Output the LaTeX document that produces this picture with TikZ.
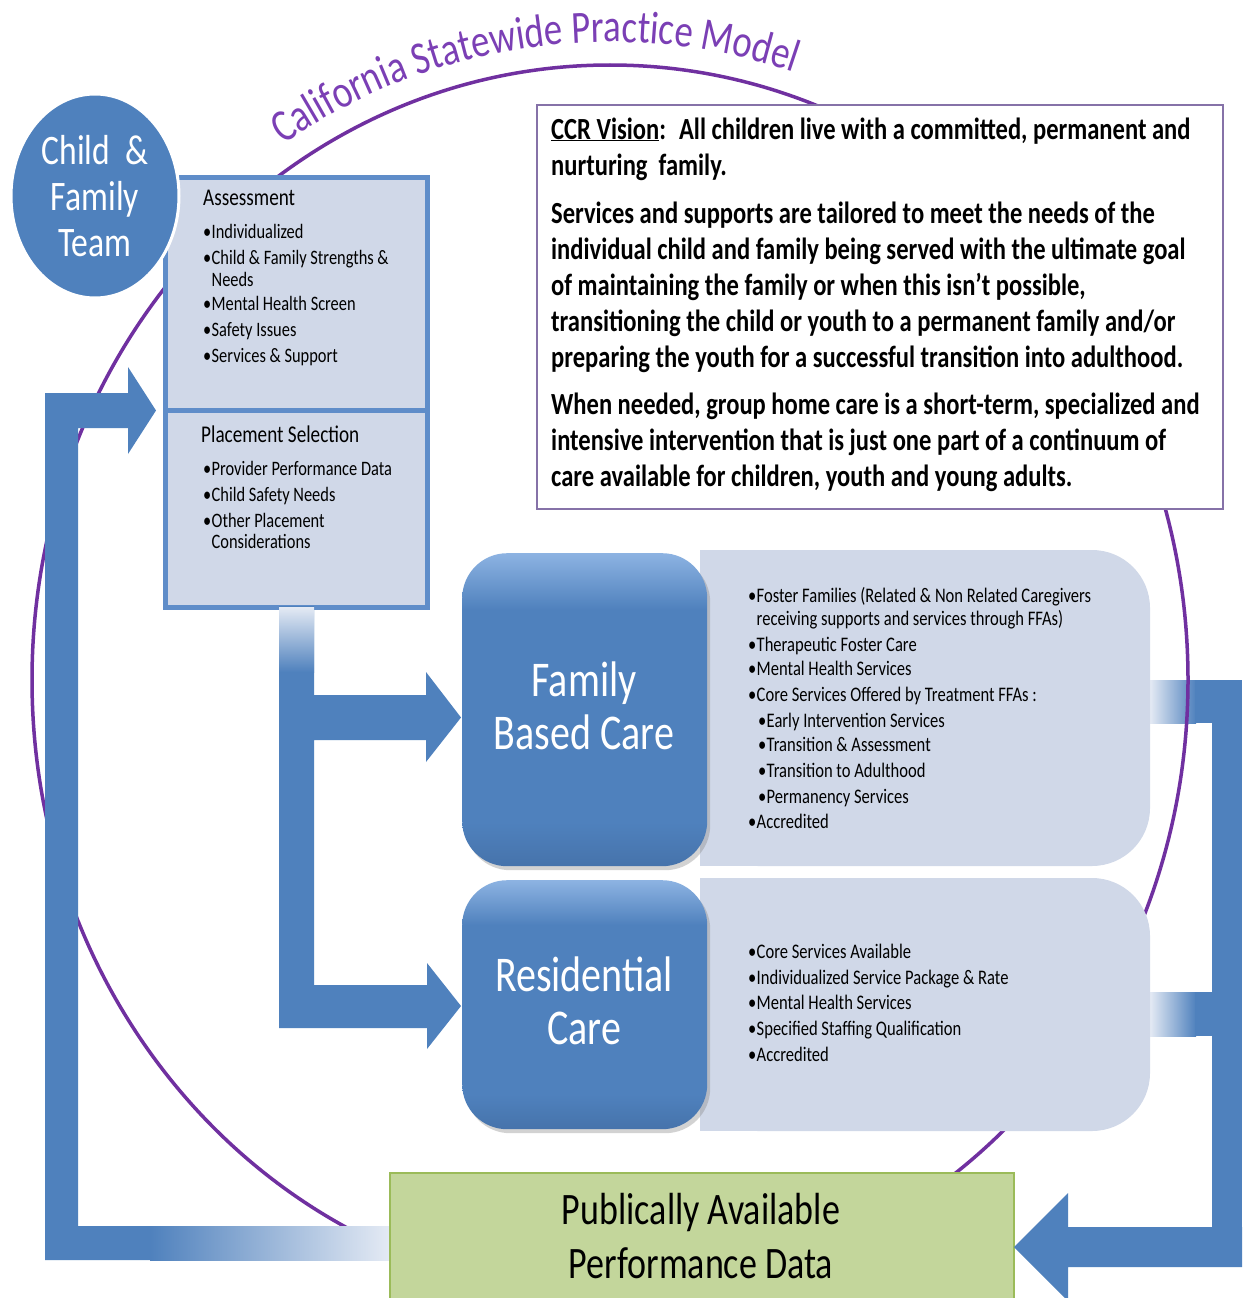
\documentclass[tikz,border=0pt]{standalone}
\usepackage{fontspec}
\setmainfont{Carlito}[FakeStretch=0.8]
\usetikzlibrary{shapes.geometric,shadows,decorations.text}
\definecolor{blueA}{HTML}{4F81BD}
\definecolor{blueTop}{HTML}{8DB3E2}
\definecolor{blueDark}{HTML}{4673AB}
\definecolor{boxfill}{HTML}{D0D8E8}
\definecolor{boxline}{HTML}{5F8DC9}
\definecolor{ringpurple}{HTML}{7030A0}
\definecolor{titlepurple}{HTML}{7B3FB5}
\definecolor{visionline}{HTML}{8672A8}
\definecolor{greenfill}{HTML}{C3D69B}
\definecolor{greenline}{HTML}{9BBB59}
\definecolor{fadeblue}{HTML}{E4EAF4}
\pgfdeclareverticalshading{bluebox}{100bp}{color(0bp)=(blueDark); color(25bp)=(blueDark); color(32bp)=(blueA); color(66bp)=(blueA); color(75bp)=(blueTop); color(100bp)=(blueTop)}
\newcommand{\bul}{\makebox[8.5pt][l]{•}}
\newcommand{\ind}{\hspace*{8.5pt}}
\newcommand{\subind}{\hspace*{10pt}}
\tikzset{
  bar/.style={fill=blueA, draw=none},
  panel/.style={fill=boxfill, draw=boxline, line width=5pt, anchor=north west},
  infofill/.style={fill=boxfill, draw=none},
  carebox/.style={rounded corners=45pt, shading=bluebox, draw=none, anchor=north west,
    drop shadow={opacity=0.35, shadow xshift=3pt, shadow yshift=-4pt}},
  caretext/.style={text=white, align=center, font=\fontsize{50}{53}\selectfont},
  plain/.style={anchor=base west, inner sep=0pt},
  headfont/.style={font=\fontsize{24}{26}\selectfont},
}
\begin{document}
\begin{tikzpicture}[x=1pt,y=-1pt]
\useasboundingbox (0,0) rectangle (1242,1298);
\clip (0,0) rectangle (1242,1298);
\fill[white] (0,0) rectangle (1242,1298);

% right stubs (under the ring)
\fill[left color=fadeblue, right color=blueA] (1150,680) rectangle (1196,723);
\fill[bar] (1195,680) rectangle (1242,723);
\fill[left color=fadeblue, right color=blueA] (1150,992) rectangle (1196,1036);
\fill[bar] (1195,992) rectangle (1242,1036);

% purple ring
\draw[ringpurple, line width=3.5pt] (610,680) ellipse [x radius=578, y radius=615];

% title along the ring
\path[decorate, decoration={text along path,
   text={|\color{titlepurple}\fontsize{46}{46}\selectfont|California Statewide Practice Model},
   text align=center}]
  (610,680) ++(227:602 and 638) arc[start angle=227, end angle=298, x radius=602, y radius=638];

% left feedback arrow
\fill[bar] (45,1260) -- (45,393) -- (128,393) -- (128,367) -- (156,410.5) -- (128,454)
  -- (128,428) -- (78,428) -- (78,1226) -- (151,1226) -- (151,1260) -- cycle;
\fill[left color=blueA, right color=fadeblue] (150,1226) rectangle (389,1260);

% assessment / placement panels
\node[panel, minimum width=262pt, minimum height=233.5pt] (assess) at (162.5,174.5) {};
\node[panel, minimum width=262pt, minimum height=196.5pt] (place) at (162.5,408) {};
\node[plain, headfont] (asshead) at (203,205) {Assessment};
\node[plain] (asslist) at (203,238) {\parbox[t]{300pt}{\raggedright\fontsize{20.5}{22}\selectfont
  \bul Individualized\\[4.5pt]
  \bul Child \& Family Strengths \&\\
  \ind Needs\\[2pt]
  \bul Mental Health Screen\\[4pt]
  \bul Safety Issues\\[4pt]
  \bul Services \& Support}};
\node[plain, headfont] (placehead) at (201,442) {Placement Selection};
\node[plain] (placelist) at (203,475) {\parbox[t]{300pt}{\raggedright\fontsize{20.5}{22}\selectfont
  \bul Provider Performance Data\\[4pt]
  \bul Child Safety Needs\\[4pt]
  \bul Other Placement\\[-1pt]
  \ind Considerations}};

% vision box
\node[draw=visionline, fill=white, line width=1.5pt, minimum width=686pt, minimum height=404pt, anchor=north west] (vision) at (536,104) {};
\node[plain] (visiontext) at (551,139) {\parbox[t]{700pt}{\raggedright\fontsize{30.7}{36}\selectfont\bfseries
  \underline{CCR Vision}:~ All children live with a committed, permanent and\\
  nurturing~ family.\\[12pt]
  Services and supports are tailored to meet the needs of the\\
  individual child and family being served with the ultimate goal\\
  of maintaining the family or when this isn’t possible,\\
  transitioning the child or youth to a permanent family and/or\\
  preparing the youth for a successful transition into adulthood.\\[11pt]
  When needed, group home care is a short-term, specialized and\\
  intensive intervention that is just one part of a continuum of\\
  care available for children, youth and young adults.}};

% info boxes
\fill[infofill, rounded corners=58pt] (700,550) rectangle (1150,866);
\fill[infofill] (700,550) rectangle (950,866);
\fill[infofill, rounded corners=58pt] (700,878) rectangle (1150,1131);
\fill[infofill] (700,878) rectangle (950,1131);
\node[plain] (famlist) at (748,602) {\parbox[t]{420pt}{\raggedright\fontsize{20.7}{23}\selectfont
  \bul Foster Families (Related \& Non Related Caregivers\\
  \ind receiving supports and services through FFAs)\\[3pt]
  \bul Therapeutic Foster Care\\[1pt]
  \bul Mental Health Services\\[3pt]
  \bul Core Services Offered by Treatment FFAs :\\[3pt]
  \subind\bul Early Intervention Services\\[1pt]
  \subind\bul Transition \& Assessment\\[3pt]
  \subind\bul Transition to Adulthood\\[3pt]
  \subind\bul Permanency Services\\[2pt]
  \bul Accredited}};
\node[plain] (reslist) at (748,958) {\parbox[t]{420pt}{\raggedright\fontsize{20.7}{23}\selectfont
  \bul Core Services Available\\[3pt]
  \bul Individualized Service Package \& Rate\\[2pt]
  \bul Mental Health Services\\[3pt]
  \bul Specified Staffing Qualification\\[3pt]
  \bul Accredited}};

% care boxes
\node[carebox, minimum width=245pt, minimum height=313pt] (fbc) at (462,553) {};
\node[caretext] (fbctext) at (584,706) {Family\\Based Care};
\node[carebox, minimum width=245pt, minimum height=249pt] (rc) at (462,880) {};
\node[caretext] (rctext) at (584,1001) {Residential\\Care};

% placement arrows
\fill[bar] (279,606) -- (314,606) -- (314,695) -- (426,695) -- (426,672) -- (461,717.5) -- (426,762)
  -- (426,740) -- (314,740) -- (314,985) -- (427,985) -- (427,963) -- (461,1006) -- (427,1049)
  -- (427,1028) -- (279,1028) -- cycle;
\fill[top color=fadeblue, bottom color=blueA] (279,607) rectangle (314,672);

% performance data box
\node[fill=greenfill, draw=greenline, line width=1.5pt, minimum width=624pt, minimum height=140pt, anchor=north west] (perf) at (389,1172) {};
\node[align=center, font=\fontsize{45}{54}\selectfont] (perftext) at (701,1236) {Publically Available\\Performance Data};

% right return arrow
\fill[bar] (1212,680) rectangle (1242,1267);
\fill[bar] (1242,1227) -- (1068,1227) -- (1068,1193) -- (1014,1247) -- (1068,1301) -- (1068,1267) -- (1242,1267) -- cycle;

% child & family team
\node[ellipse, fill=blueA, draw=white, line width=3pt, minimum width=168pt, minimum height=204pt,
  text=white, align=center, font=\fontsize{42}{46}\selectfont] (cft) at (95,196) {Child~ \&\\Family\\Team};
\end{tikzpicture}
\end{document}
